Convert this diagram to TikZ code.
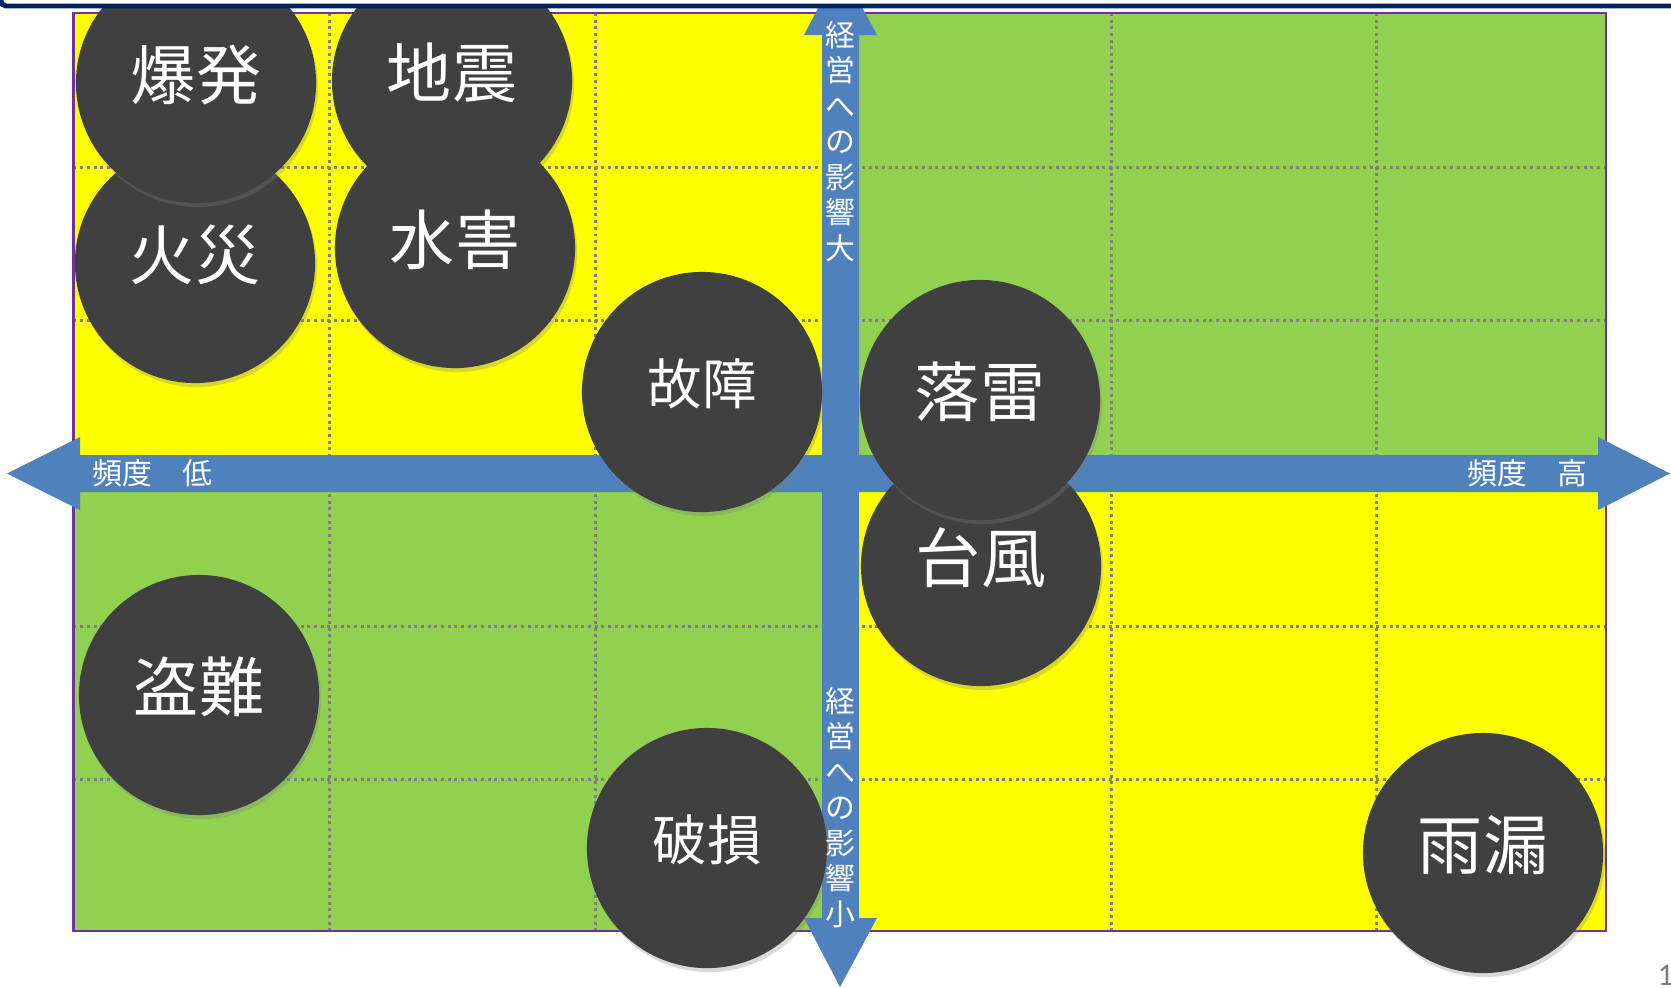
\documentclass[tikz,border=0pt]{standalone}
\usepackage{fontspec}
\setmainfont{Noto Sans CJK JP}
\newfontfamily\pagefont{Carlito}
\usetikzlibrary{shadows}
\definecolor{riskyellow}{RGB}{255, 255, 0}
\definecolor{riskgreen}{RGB}{146, 208, 80}
\definecolor{axisblue}{RGB}{79, 129, 189}
\definecolor{charcoal}{RGB}{64, 64, 64}
\definecolor{navy}{RGB}{0, 32, 96}
\definecolor{framepurple}{RGB}{112, 48, 160}
\definecolor{gridgray}{RGB}{127, 127, 127}
\tikzset{
    risk/.style={circle, fill=charcoal, text=white, minimum size=2.4cm, inner sep=0pt,
                 drop shadow={shadow xshift=0.02cm, shadow yshift=-0.04cm, opacity=0.3},
                 font=\fontsize{18.5}{20}\selectfont, text depth=6.2pt},
    risksmall/.style={risk, font=\fontsize{15.5}{17}\selectfont, text depth=5.9pt},
    gridline/.style={gridgray, line width=0.85pt, dash pattern=on 0.85pt off 1.05pt},
    axislabel/.style={text=white, inner sep=0pt, font=\fontsize{8.5}{10.1}\selectfont}
}

\begin{document}
\begin{tikzpicture}[x=0.01cm, y=-0.01cm]
            \clip (0,0) rectangle (1671,987);
            % Quadrants
            \fill[riskyellow] (  73.5,  13) rectangle ( 840, 473.5);
            \fill[riskgreen]  ( 840,    13) rectangle (1606, 473.5);
            \fill[riskgreen]  (  73.5, 473.5) rectangle ( 840, 931);
            \fill[riskyellow] ( 840,   473.5) rectangle (1606, 931);
            % Grid
            \foreach \x in {329, 595, 1111, 1376}
                \draw[gridline] (\x, 13) -- (\x, 931);
            \foreach \y in {167, 320, 626, 779}
                \draw[gridline] (73.5, \y) -- (1606, \y);
            % Frame
            \draw[framepurple, line width=0.7pt] (73.5, 13) rectangle (1606, 931);
            % Frequency axis
            \fill[axisblue] (   7, 473.5) -- (  80, 437) -- (  80, 455) -- (1598, 455) -- (1598, 437)
                         -- (1670, 473.5) -- (1598, 510) -- (1598, 492) -- (  80, 492) -- (  80, 510) -- cycle;
            % Impact axis
            \fill[axisblue] ( 840, -34) -- ( 877,  35) -- ( 859,  35) -- ( 859, 918) -- ( 877, 918)
                         -- ( 840, 987) -- ( 804, 918) -- ( 822, 918) -- ( 822,  35) -- ( 804,  35) -- cycle;
            % Risks
            \node[risk]      (fire)      at ( 195, 263) {火災};
            \node[risk]      (explosion) at ( 196,  83) {爆発};
            \node[risk]      (quake)     at ( 452,  81) {地震};
            \node[risk]      (flood)     at ( 455, 248) {水害};
            \node[risksmall] (fault)     at ( 702, 392) {故障};
            \node[risk]      (typhoon)   at ( 981, 566) {台風};
            \node[risk]      (thunder)   at ( 980, 400) {落雷};
            \node[risk]      (theft)     at ( 199, 695) {盗難};
            \node[risksmall] (damage)    at ( 707, 848) {破損};
            \node[risk]      (leak)      at (1483, 853) {雨漏};
            % Axis labels
            \node[axislabel, anchor=west]  (freqlow)    at (  92, 473.5) {頻度　低};
            \node[axislabel, anchor=east]  (freqhigh)   at (1588, 473.5) {頻度　高};
            \node[axislabel, align=center] (impacthigh) at ( 840, 141.5) {経\\営\\へ\\の\\影\\響\\大};
            \node[axislabel, align=center] (impactlow)  at ( 840, 807.5) {経\\営\\へ\\の\\影\\響\\小};
            % Title rule & page number
            \draw[navy, line width=1.4pt, fill=white, rounded corners=0.05cm] (1, -60) rectangle (1750, 6);
            \node[anchor=base west, inner sep=0pt, text=gray, font=\pagefont\fontsize{9}{10}\selectfont] (pagenum) at (1657, 985) {1};
\end{tikzpicture}
\end{document}
